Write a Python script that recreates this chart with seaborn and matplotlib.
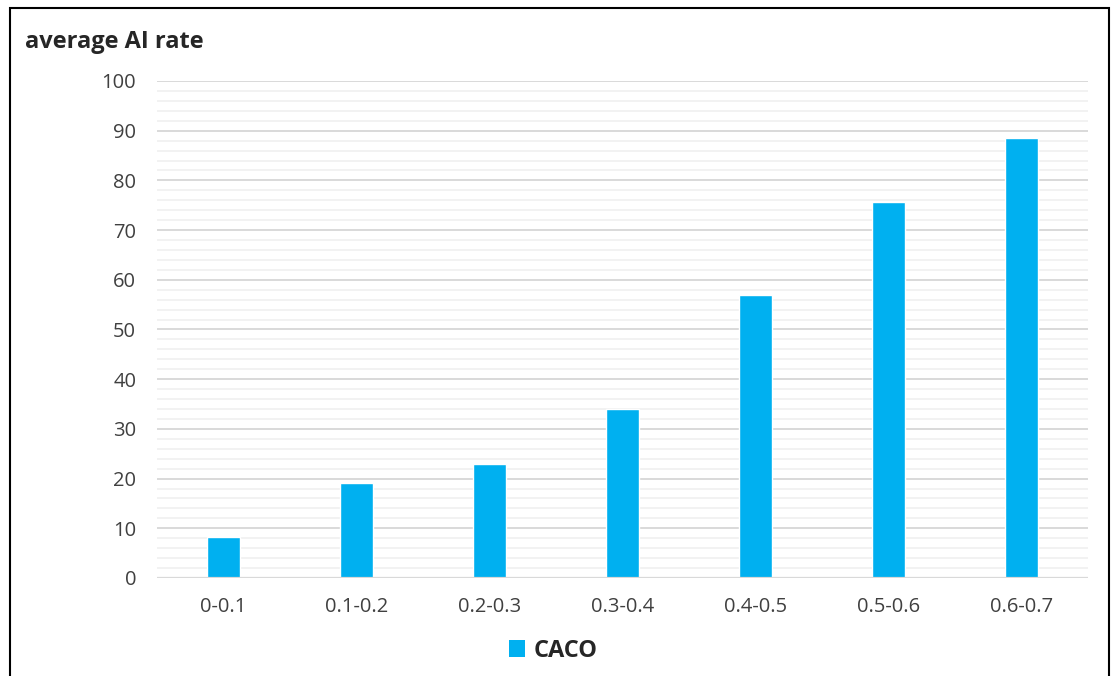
import matplotlib
matplotlib.use("Agg")
import matplotlib.pyplot as plt
from matplotlib.patches import Rectangle, Patch
from matplotlib.ticker import MultipleLocator
import seaborn as sns
import pandas as pd

# Average AI rate per score bucket
categories = ["0-0.1", "0.1-0.2", "0.2-0.3", "0.3-0.4", "0.4-0.5", "0.5-0.6", "0.6-0.7"]
caco_values = [8.3, 19.2, 23.0, 34.1, 57.0, 75.7, 88.5]
series_name = "CACO"
y_ticks = [0, 10, 20, 30, 40, 50, 60, 70, 80, 90, 100]

df = pd.DataFrame({"bucket": categories, "rate": caco_values, "series": series_name})

sns.set_theme(style="white")
plt.rcParams["font.family"] = ["Open Sans", "DejaVu Sans"]

text_color = "#404040"
bar_color = "#00B0F0"

fig = plt.figure(figsize=(11.12, 6.76), dpi=100)
ax = fig.add_axes([0.1412, 0.1450, 0.9784 - 0.1412, 0.8802 - 0.1450])

sns.barplot(data=df, x="bucket", y="rate", hue="series", palette=[bar_color],
            width=0.25, ax=ax, legend=False, saturation=1)

ax.set_ylim(0, 100)
ax.set_xlim(-0.5, len(categories) - 0.5)
ax.set_yticks(y_ticks)
ax.yaxis.set_minor_locator(MultipleLocator(2))
ax.grid(which="major", axis="y", color="#D9D9D9", linewidth=1.4)
ax.grid(which="minor", axis="y", color="#F2F2F2", linewidth=1.4)
ax.grid(which="major", axis="x", visible=False)
ax.set_axisbelow(True)
for s in ax.spines.values():
    s.set_visible(False)
ax.axhline(0, color="#D9D9D9", linewidth=1.6, zorder=1)

ax.set_xlabel("")
ax.set_ylabel("")
ax.tick_params(axis="both", which="both", length=0, labelsize=14.5, colors=text_color)
ax.tick_params(axis="y", pad=15)
ax.tick_params(axis="x", pad=14)

# Title at the top-left of the chart area
fig.text(25 / 1112, 1 - 42 / 676, "average AI rate", fontsize=17, fontweight="bold",
         color="#262626", ha="left", va="center")

# Legend below the axis
handle = Patch(facecolor=bar_color, edgecolor="none", label=series_name)
fig.legend(handles=[handle], loc="center", bbox_to_anchor=(553 / 1112, 1 - 651 / 676),
           frameon=False, prop={"weight": "bold", "size": 17}, labelcolor="#262626",
           handlelength=0.7, handleheight=0.7, handletextpad=0.35)

# Chart frame
fig.patches.append(Rectangle((10 / 1112, -0.05), 1099 / 1112, 1 - 8 / 676 + 0.05,
                             transform=fig.transFigure, fill=False,
                             edgecolor="black", linewidth=1.5))

fig.savefig("out.png", dpi=100)
